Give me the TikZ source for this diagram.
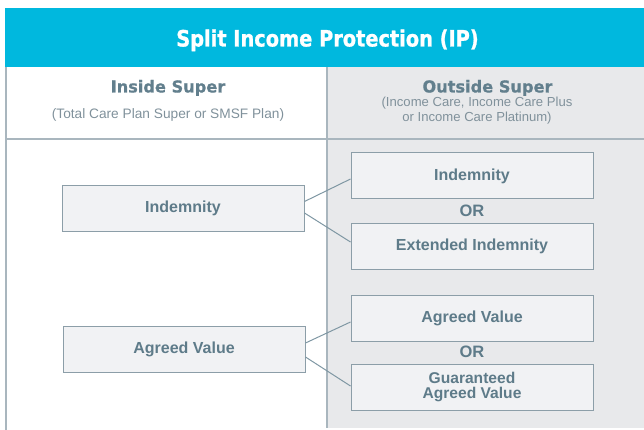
\documentclass[tikz,border=0pt]{standalone}
\usepackage{fontspec}
\setmainfont{Liberation Sans}
\newfontfamily\titlefont[FakeStretch=0.86,FakeBold=1]{DejaVu Sans}
\newfontfamily\headfont[FakeStretch=0.98,FakeBold=0.6]{DejaVu Sans}
\definecolor{ipcyan}{RGB}{0,184,222}
\definecolor{headtext}{RGB}{98,127,141}
\definecolor{boxtext}{RGB}{94,123,137}
\definecolor{subtext}{RGB}{128,145,155}
\definecolor{colgray}{RGB}{232,233,235}
\definecolor{boxfill}{RGB}{241,242,244}
\definecolor{boxline}{RGB}{140,158,168}
\definecolor{rule}{RGB}{169,182,190}
\definecolor{conn}{RGB}{127,151,163}
\begin{document}
\begin{tikzpicture}[x=1pt,y=-1pt,
  optbox/.style={draw=boxline,fill=boxfill,line width=1pt,minimum width=242pt,minimum height=46pt,inner sep=0pt,
    text=boxtext,font=\fontsize{16}{14}\selectfont\bfseries,align=center},
  ortext/.style={text=boxtext,font=\fontsize{16.5}{16}\selectfont\bfseries},
  headstyle/.style={text=headtext,font=\fontsize{16.5}{18}\headfont\bfseries,anchor=base,inner sep=0pt},
  substyle/.style={text=subtext,font=\fontsize{13.7}{15}\selectfont,anchor=base,inner sep=0pt},
  tablerule/.style={draw=rule,line width=1.5pt},
  connector/.style={draw=conn,line width=1pt}]
\useasboundingbox (0,0) rectangle (644,430);
% backgrounds
\fill[ipcyan] (5,8) rectangle (644,67);
\fill[colgray] (327,67) rectangle (644,428);
% table rules
\draw[tablerule] (6,67) -- (6,430);
\draw[tablerule] (327,67) -- (327,428);
\draw[tablerule] (6,139) -- (644,139);
% title
\node[text=white,font=\fontsize{22.5}{23}\titlefont\bfseries,anchor=base,inner sep=0pt] (title) at (327.5,46.5) {Split Income Protection (IP)};
% column headers
\node[headstyle] (inhead) at (168,92.5) {Inside Super};
\node[substyle] (insub) at (168,119) {(Total Care Plan Super or SMSF Plan)};
\node[headstyle] (outhead) at (487.5,92.5) {Outside Super};
\node[substyle,font=\fontsize{13.1}{15}\selectfont] (outsub1) at (477,107) {(Income Care, Income Care Plus};
\node[substyle,font=\fontsize{13.1}{15}\selectfont] (outsub2) at (477,121.5) {or Income Care Platinum)};
% boxes
\node[optbox,minimum height=45pt] (li) at (183,208.5) {Indemnity};
\node[optbox] (la) at (184,349) {Agreed Value};
\node[optbox] (ri) at (472,176) {Indemnity};
\node[optbox] (re) at (472,246) {Extended Indemnity};
\node[optbox] (ra) at (472,318) {Agreed Value};
\node[optbox,font=\fontsize{15.6}{14.6}\selectfont\bfseries] (rg) at (472,387) {Guaranteed\\Agreed Value};
\node[ortext] (or1) at (472,211) {OR};
\node[ortext] (or2) at (472,352) {OR};
% connectors
\draw[connector] ([yshift=7pt]li.east) -- ([yshift=-3pt]ri.west);
\draw[connector] ([yshift=-4.5pt]li.east) -- ([yshift=4pt]re.west);
\draw[connector] ([yshift=6pt]la.east) -- ([yshift=-4pt]ra.west);
\draw[connector] ([yshift=-8pt]la.east) -- ([yshift=1pt]rg.west);
\end{tikzpicture}
\end{document}
